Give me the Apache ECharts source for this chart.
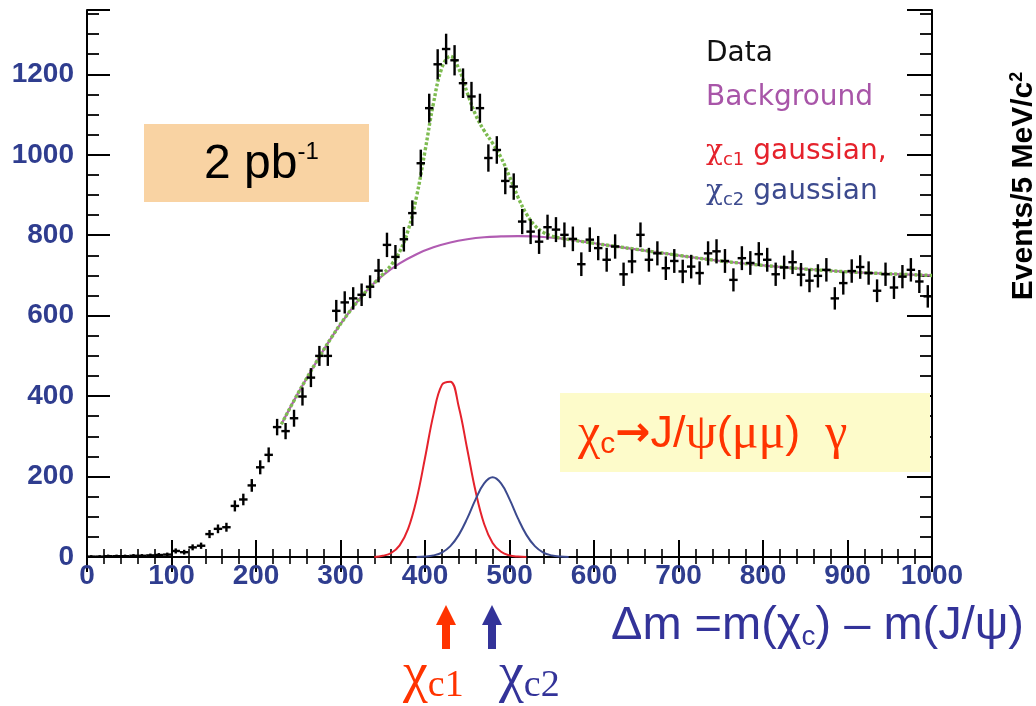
<!DOCTYPE html>
<html>
<head>
<meta charset="utf-8">
<script src="https://cdn.jsdelivr.net/npm/echarts@6/dist/echarts.min.js"></script>
<style>html,body{margin:0;padding:0;background:#fff}#c{width:1036px;height:706px}</style>
</head>
<body>
<div id="c"></div>
<script>
// ---- data ----
var binCenters = [5,15,25,35,45,55,65,75,85,95,105,115,125,135,145,155,165,175,185,195,
  205,215,225,235,245,255,265,275,285,295,305,315,325,335,345,355,365,375,385,395,
  405,415,425,435,445,455,465,475,485,495,505,515,525,535,545,555,565,575,585,595,
  605,615,625,635,645,655,665,675,685,695,705,715,725,735,745,755,765,775,785,795,
  805,815,825,835,845,855,865,875,885,895,905,915,925,935,945,955,965,975,985,995];
var counts = [1,1,2,2,2,3,3,4,5,6,15,12,24,28,57,70,74,127,143,178,
  223,254,323,313,345,399,446,500,500,612,633,643,652,672,712,776,746,790,855,979,
  1116,1225,1263,1235,1178,1145,1116,992,1012,935,921,834,809,784,820,814,801,791,728,789,
  768,739,772,703,735,801,739,755,718,736,710,722,706,755,760,736,689,743,731,753,
  739,703,720,733,702,687,699,714,643,681,711,721,706,662,703,670,697,714,685,648];

var bkgX = [230,250,270,290,310,330,350,370,390,410,430,450,470,490,510,530,560,600,650,700,750,800,850,900,950,1000];
var bkgY = [330,408,480,548,608,660,700,730,753,770,782,790,795,797,798,797,792,780,765,750,736,725,716,709,704,700];

var fitX = [230,250,270,290,310,330,340,350,360,370,380,390,400,410,420,430,440,450,460,470,480,490,500,510,520,530,540,550,560,600,650,700,750,800,850,900,950,1000];
var fitY = [330,408,480,548,608,660,681,703,726,759,812,896,1009,1128,1216,1245,1214,1154,1099,1060,1029,993,946,895,853,824,807,798,793,780,765,750,736,725,716,709,704,700];

var chic1X = [340,350,360,370,380,390,400,410,420,430,440,450,460,470,480,490,500,510,520];
var chic1Y = [0,3,10,29,70,143,246,354,428,436,373,268,162,82,35,13,4,1,0];

var chic2X = [390,400,410,420,430,440,450,460,470,480,490,500,510,520,530,540,550,560,570];
var chic2Y = [0,1,4,11,27,55,96,144,183,198,183,144,96,55,27,11,4,1,0];

var xTicks = [0,100,200,300,400,500,600,700,800,900,1000];
var yTicks = [0,200,400,600,800,1000,1200];

function pairs(xs, ys){ var o=[]; for(var i=0;i<xs.length;i++) o.push([xs[i], ys[i]]); return o; }

var chart = echarts.init(document.getElementById('c'), null, {renderer:'canvas'});
var labelBlue = '#2f3d8f';
var axisCommon = {
  type:'value', splitLine:{show:false},
  axisLine:{show:true, lineStyle:{color:'#000', width:2}}
};
var option = {
  backgroundColor:'#fff',
  animation:false,
  grid:{left:87, right:104, top:10, bottom:149, outerBoundsMode:'none', containLabel:false},
  xAxis:[
    Object.assign({}, axisCommon, {position:'bottom', min:xTicks[0], max:xTicks[xTicks.length-1], interval:100,
      axisTick:{inside:true, length:17, lineStyle:{color:'#000', width:2}},
      minorTick:{show:true, splitNumber:5, length:8, lineStyle:{color:'#000', width:1.6}},
      axisLabel:{show:true, margin:5, color:labelBlue, fontSize:28, fontWeight:'bold', fontFamily:'Liberation Sans',
        formatter:function(v){ return xTicks.indexOf(v) >= 0 ? String(v) : ''; }}}),
    Object.assign({}, axisCommon, {position:'top', min:0, max:1000, interval:100,
      axisTick:{inside:true, length:15, lineStyle:{color:'#000', width:2}},
      minorTick:{show:true, splitNumber:5, length:7, lineStyle:{color:'#000', width:1.6}},
      axisLabel:{show:false}})
  ],
  yAxis:[
    Object.assign({}, axisCommon, {position:'left', min:0, max:1360, interval:200,
      axisTick:{inside:true, length:23, lineStyle:{color:'#000', width:2}},
      axisLabel:{show:true, margin:13, color:labelBlue, fontSize:28, fontWeight:'bold', fontFamily:'Liberation Sans',
        formatter:function(v){ return yTicks.indexOf(v) >= 0 ? String(v) : ''; }}}),
    Object.assign({}, axisCommon, {position:'left', min:0, max:1360, interval:50,
      axisLine:{show:false},
      axisTick:{inside:true, length:12, lineStyle:{color:'#000', width:1.8}},
      axisLabel:{show:false}}),
    Object.assign({}, axisCommon, {position:'right', min:0, max:1360, interval:200,
      axisTick:{inside:true, length:25, lineStyle:{color:'#000', width:2}},
      axisLabel:{show:false}}),
    Object.assign({}, axisCommon, {position:'right', min:0, max:1360, interval:50,
      axisLine:{show:false},
      axisTick:{inside:true, length:12, lineStyle:{color:'#000', width:1.8}},
      axisLabel:{show:false}})
  ],
  series:[
    {type:'line', name:'Background', xAxisIndex:0, yAxisIndex:0, data:pairs(bkgX,bkgY), smooth:0.4, symbol:'none',
      lineStyle:{color:'#b15cb2', width:2.2}, z:2},
    {type:'line', name:'chic1', xAxisIndex:0, yAxisIndex:0, data:pairs(chic1X,chic1Y), smooth:0.4, symbol:'none',
      lineStyle:{color:'#e5222c', width:2}, z:2},
    {type:'line', name:'chic2', xAxisIndex:0, yAxisIndex:0, data:pairs(chic2X,chic2Y), smooth:0.4, symbol:'none',
      lineStyle:{color:'#3c4a8e', width:2}, z:2},
    {type:'line', name:'Fit', xAxisIndex:0, yAxisIndex:0, data:pairs(fitX,fitY), smooth:0.4, symbol:'none',
      lineStyle:{color:'#7dbb50', width:3.4, type:[3,2]}, z:3},
    {type:'custom', name:'Data', xAxisIndex:0, yAxisIndex:0, data:pairs(binCenters,counts), z:5,
      renderItem:function(params, api){
        var x = api.value(0), y = api.value(1), e = Math.sqrt(y);
        var h0 = api.coord([x-5, y]), h1 = api.coord([x+5, y]);
        var v0 = api.coord([x, Math.max(0, y-e)]), v1 = api.coord([x, y+e]);
        return {type:'group', children:[
          {type:'line', shape:{x1:h0[0], y1:h0[1], x2:h1[0], y2:h1[1]}, style:{stroke:'#000', lineWidth:2.4}},
          {type:'line', shape:{x1:v0[0], y1:v0[1]+1, x2:v1[0], y2:v1[1]-1}, style:{stroke:'#000', lineWidth:2.4}}
        ]};
      }}
  ],
  graphic:[
    {type:'rect', shape:{x:144, y:124, width:225, height:78}, style:{fill:'#f9d3a3'}, z:1},
    {type:'text', left:204, top:140, z:10, style:{text:'{a|2 pb}{b|-1}', rich:{
      a:{fontFamily:'Liberation Sans', fontSize:48, fill:'#000', lineHeight:50},
      b:{fontFamily:'Liberation Sans', fontSize:24, fill:'#000', verticalAlign:'top', lineHeight:30}}}},

    {type:'rect', shape:{x:560, y:393, width:370, height:79}, style:{fill:'#fdfbca'}, z:1},
    {type:'text', left:578, top:410, z:10, style:{
      text:'{chi|χ}{sub|c}{arr|→}{m|J/}{g|ψ}{m|(}{g|μμ}{m|)  }{g|γ}',
      fill:'#ff3300',
      rich:{
        chi:{fontFamily:'Liberation Serif', fontSize:50, fill:'#ff3300', lineHeight:50},
        sub:{fontFamily:'Liberation Sans', fontSize:30, fill:'#ff3300', verticalAlign:'bottom', lineHeight:30},
        arr:{fontFamily:'DejaVu Sans', fontWeight:'bold', fontSize:42, fill:'#ff3300', lineHeight:46},
        m:{fontFamily:'Liberation Sans', fontSize:45, fill:'#ff3300', lineHeight:46},
        g:{fontFamily:'Liberation Serif', fontSize:50, fill:'#ff3300', lineHeight:46}
      }}},

    {type:'text', left:706, top:40, z:10, style:{text:'Data', fontFamily:'DejaVu Sans', fontSize:28, fill:'#111'}},
    {type:'text', left:706, top:84, z:10, style:{text:'Background', fontFamily:'DejaVu Sans', fontSize:28, fill:'#a855a8'}},
    {type:'text', left:706, top:138, z:10, style:{text:'{c|χ}{s|c1}{t| gaussian,}', fill:'#e5222c',
      rich:{c:{fontFamily:'DejaVu Serif', fontSize:28, fill:'#e5222c', lineHeight:34}, s:{fontFamily:'DejaVu Sans', fontSize:18, fill:'#e5222c', verticalAlign:'bottom', lineHeight:22}, t:{fontFamily:'DejaVu Sans', fontSize:28, fill:'#e5222c', lineHeight:34}}}},
    {type:'text', left:706, top:178, z:10, style:{text:'{c|χ}{s|c2}{t| gaussian}', fill:'#3c4a8e',
      rich:{c:{fontFamily:'DejaVu Serif', fontSize:28, fill:'#3c4a8e', lineHeight:34}, s:{fontFamily:'DejaVu Sans', fontSize:18, fill:'#3c4a8e', verticalAlign:'bottom', lineHeight:22}, t:{fontFamily:'DejaVu Sans', fontSize:28, fill:'#3c4a8e', lineHeight:34}}}},

    {type:'text', x:1040, y:186, rotation:Math.PI/2, z:10, style:{
      text:'{t|Events/5 MeV/c}{p|2}', align:'center', verticalAlign:'bottom',
      rich:{t:{fontFamily:'Liberation Sans', fontWeight:'bold', fontSize:30, fill:'#000', lineHeight:32}, p:{fontFamily:'Liberation Sans', fontWeight:'bold', fontSize:18, fill:'#000', verticalAlign:'top', lineHeight:18}}}},

    {type:'polygon', z:10, shape:{points:[[446,605],[456,625],[450,625],[450,649],[442,649],[442,625],[436,625]]}, style:{fill:'#ff3300'}},
    {type:'polygon', z:10, shape:{points:[[492,605],[502,625],[496,625],[496,649],[488,649],[488,625],[482,625]]}, style:{fill:'#333399'}},

    {type:'text', left:403, top:648, z:10, style:{text:'{c|χ}{s|c1}', rich:{
      c:{fontFamily:'Liberation Serif', fontSize:56, fill:'#ff3300', lineHeight:58},
      s:{fontFamily:'Liberation Serif', fontSize:38, fill:'#ff3300', verticalAlign:'bottom', lineHeight:40}}}},
    {type:'text', left:499, top:648, z:10, style:{text:'{c|χ}{s|c2}', rich:{
      c:{fontFamily:'Liberation Serif', fontSize:56, fill:'#333399', lineHeight:58},
      s:{fontFamily:'Liberation Serif', fontSize:38, fill:'#333399', verticalAlign:'bottom', lineHeight:40}}}},

    {type:'text', left:611, top:603, z:10, style:{text:'{m|Δm =m(χ}{s|c}{m|) – m(J/ψ)}', rich:{
      m:{fontFamily:'Liberation Sans', fontSize:47, fill:'#333399', lineHeight:50},
      s:{fontFamily:'Liberation Sans', fontSize:28, fill:'#333399', verticalAlign:'bottom', lineHeight:32}}}}
  ]
};
chart.setOption(option);
</script>
</body>
</html>
